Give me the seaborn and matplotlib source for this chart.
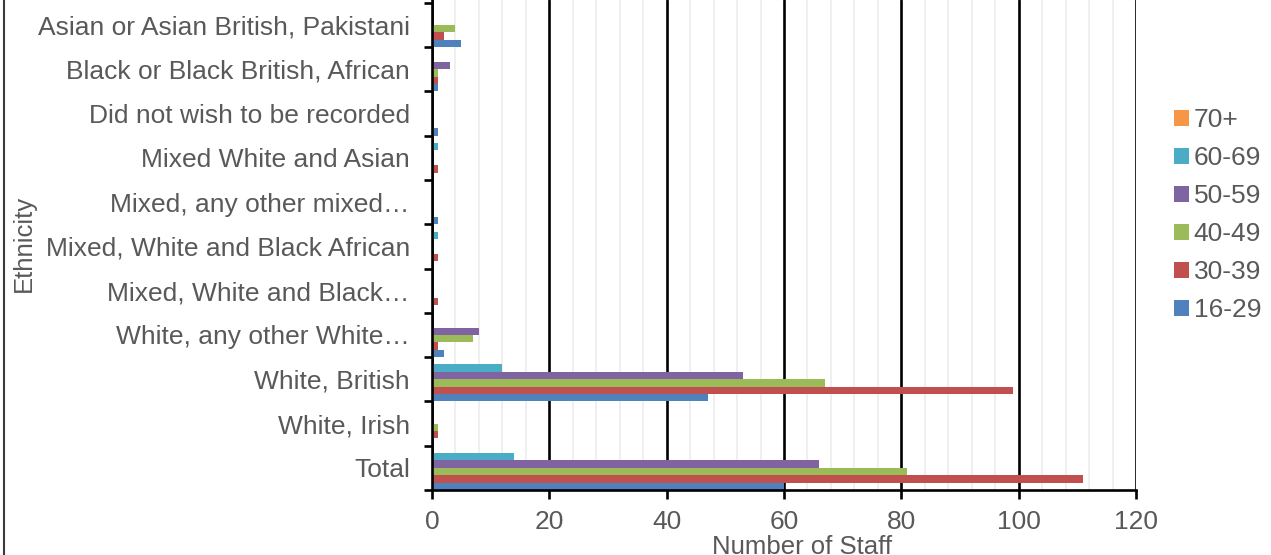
import matplotlib
matplotlib.use("Agg")
import matplotlib.pyplot as plt
from matplotlib.lines import Line2D
from matplotlib.ticker import MultipleLocator, FixedLocator
import seaborn as sns
import pandas as pd

# Ethnicity categories, listed top to bottom
categories = [
    "Asian or Asian British, Pakistani",
    "Black or Black British, African",
    "Did not wish to be recorded",
    "Mixed White and Asian",
    "Mixed, any other mixed\u2026",
    "Mixed, White and Black African",
    "Mixed, White and Black\u2026",
    "White, any other White\u2026",
    "White, British",
    "White, Irish",
    "Total",
]

# Staff counts per age band
age_16_29 = [5, 1, 1, 0, 1, 0, 0, 2, 47, 0, 60]
age_30_39 = [2, 1, 0, 1, 0, 1, 1, 1, 99, 1, 111]
age_40_49 = [4, 1, 0, 0, 0, 0, 0, 7, 67, 1, 81]
age_50_59 = [0, 3, 0, 0, 0, 0, 0, 8, 53, 0, 66]
age_60_69 = [0, 0, 0, 1, 0, 1, 0, 0, 12, 0, 14]
age_70_plus = [0, 0, 0, 0, 0, 0, 0, 0, 0, 0, 0]

age_bands = ["70+", "60-69", "50-59", "40-49", "30-39", "16-29"]
series = {
    "70+": age_70_plus,
    "60-69": age_60_69,
    "50-59": age_50_59,
    "40-49": age_40_49,
    "30-39": age_30_39,
    "16-29": age_16_29,
}
band_colors = {
    "70+": "#F79646",
    "60-69": "#4BACC6",
    "50-59": "#8064A2",
    "40-49": "#9BBB59",
    "30-39": "#C0504D",
    "16-29": "#4F81BD",
}

x_ticks = [0, 20, 40, 60, 80, 100, 120]

rows = []
for band in age_bands:
    for cat, val in zip(categories, series[band]):
        rows.append({"Ethnicity": cat, "Age": band, "Staff": val})
df = pd.DataFrame(rows)

sns.set_theme(style="white")
plt.rcParams["font.family"] = ["Liberation Sans", "DejaVu Sans"]
text_color = "#595959"
fs = 19

fig = plt.figure(figsize=(12.71, 5.55), dpi=100)
ax = fig.add_axes([432 / 1271, 65 / 555, 704 / 1271, 490 / 555])

sns.barplot(
    data=df, y="Ethnicity", x="Staff", hue="Age",
    order=categories, hue_order=age_bands, palette=band_colors,
    orient="h", width=1.0, gap=0, ax=ax, legend=True,
    linewidth=0, saturation=1,
)

ax.set_xlim(0, 120)
ax.set_ylim(len(categories) - 0.5, -0.561)

# Gridlines: heavy black majors every 20, light minors every 4
ax.xaxis.set_major_locator(FixedLocator(x_ticks))
ax.xaxis.set_minor_locator(MultipleLocator(4))
ax.grid(False)
ax.set_axisbelow(True)
ax.xaxis.grid(True, which="minor", color="#EBEBEB", linewidth=1.1)
ax.xaxis.grid(True, which="major", color="black", linewidth=1.9)
ax.yaxis.grid(False)

ax.spines["top"].set_visible(False)
ax.spines["right"].set_visible(False)
for side in ["left", "bottom"]:
    ax.spines[side].set_color("black")
    ax.spines[side].set_linewidth(1.9)

# Category boundary ticks on the y axis
ax.yaxis.set_minor_locator(FixedLocator([i - 0.5 for i in range(len(categories) + 1)]))
ax.tick_params(axis="y", which="major", length=0, pad=16, labelsize=fs, labelcolor=text_color)
ax.tick_params(axis="y", which="minor", left=True, length=6, width=1.9, color="black", direction="out")
ax.tick_params(axis="x", which="major", bottom=True, length=6.5, width=1.9, color="black",
               direction="out", pad=8, labelsize=fs, labelcolor=text_color)
ax.tick_params(axis="x", which="minor", bottom=False)

ax.set_xlabel("")
ax.set_ylabel("")
fig.text(24 / 1271, 1 - 243 / 555, "Ethnicity", rotation=90, ha="center", va="center",
         fontsize=18.5, color=text_color)
fig.text(802 / 1271, 1.5 / 555, "Number of Staff", ha="center", va="baseline",
         fontsize=18.5, color=text_color)

handles, labels = ax.get_legend_handles_labels()
ax.get_legend().remove()
fig.legend(handles, labels, loc="upper left", bbox_to_anchor=(1174 / 1271, 1 - 108 / 555),
           frameon=False, fontsize=fs, labelcolor=text_color,
           handlelength=0.55, handleheight=0.55, handletextpad=0.2,
           labelspacing=0.53, borderaxespad=0, borderpad=0)

# Outer chart frame on the left
fig.add_artist(Line2D([3.5 / 1271, 3.5 / 1271], [0, 1], transform=fig.transFigure,
                      color="#3a3a3a", linewidth=1.5))

fig.savefig("out.png", dpi=100)
